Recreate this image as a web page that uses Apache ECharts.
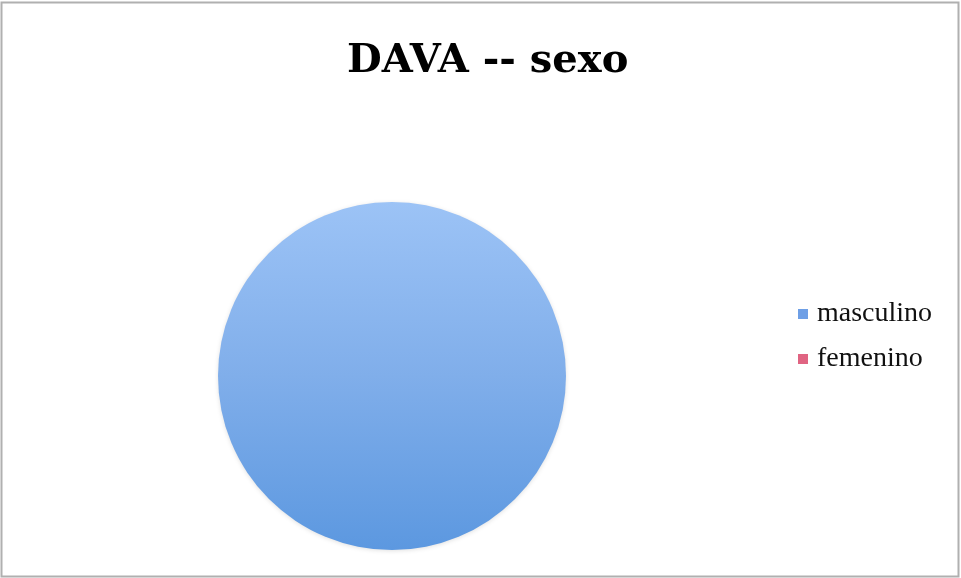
<!DOCTYPE html>
<html>
<head>
<meta charset="utf-8">
<script src="https://cdn.jsdelivr.net/npm/echarts@6/dist/echarts.min.js"></script>
<style>
  html, body { margin: 0; padding: 0; background: #ffffff; }
  #chart { width: 961px; height: 578px; }
</style>
</head>
<body>
<div id="chart"></div>
<script>
// Distribution by sex
const categories = ['masculino', 'femenino'];
const values = [100, 0];
const chartTitle = 'DAVA -- sexo';

const sliceColors = [
  new echarts.graphic.LinearGradient(0, 0, 0, 1, [
    { offset: 0, color: '#9cc3f6' },
    { offset: 0.5, color: '#80aeea' },
    { offset: 1, color: '#5c98e0' }
  ]),
  new echarts.graphic.LinearGradient(0, 0, 0, 1, [
    { offset: 0, color: '#f08aa2' },
    { offset: 1, color: '#d9506f' }
  ])
];
const legendColors = ['#6e9fe6', '#e06482'];

const chart = echarts.init(document.getElementById('chart'), null, { renderer: 'canvas' });

chart.setOption({
  backgroundColor: '#ffffff',
  animation: false,
  title: {
    text: chartTitle,
    left: 342,
    top: 37,
    textStyle: {
      fontFamily: 'DejaVu Serif',
      fontWeight: 'bold',
      fontSize: 40,
      color: '#000000'
    }
  },
  legend: {
    orient: 'vertical',
    left: 798,
    top: 300,
    padding: 0,
    itemWidth: 10,
    itemHeight: 10,
    itemGap: 17,
    icon: 'rect',
    data: categories.map((c, i) => ({ name: c, itemStyle: { color: legendColors[i] } })),
    textStyle: {
      fontFamily: 'Liberation Serif',
      fontSize: 28,
      color: '#111111',
      padding: [0, 0, 0, 4]
    }
  },
  graphic: [{
    type: 'rect',
    shape: { x: 1.5, y: 2.5, width: 957, height: 574 },
    style: { fill: 'none', stroke: '#b0b0b0', lineWidth: 2 },
    silent: true
  }],
  series: [{
    type: 'pie',
    center: [392, 376],
    radius: 174,
    startAngle: 90,
    label: { show: false },
    labelLine: { show: false },
    emphasis: { disabled: true },
    data: categories.map((c, i) => ({
      name: c,
      value: values[i],
      itemStyle: {
        color: sliceColors[i],
        shadowColor: 'rgba(0,0,0,0.12)',
        shadowBlur: 4,
        shadowOffsetY: 1
      }
    }))
  }]
});
</script>
</body>
</html>
